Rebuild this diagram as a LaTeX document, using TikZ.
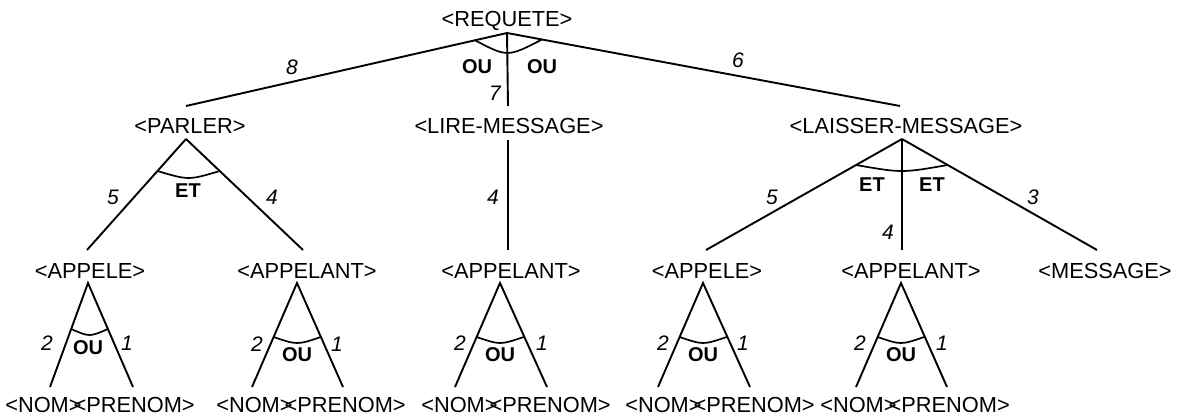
\documentclass[tikz,border=0pt]{standalone}
\usepackage{fontspec}
\setmainfont{Liberation Sans}
\newcommand\nomprenom{<NOM>\kern-0.37em<PRENOM>}
\begin{document}
\begin{tikzpicture}[x=1pt,y=-1pt,
  txt/.style={font=\fontsize{21.8}{24}\selectfont, inner sep=0pt, anchor=base},
  num/.style={font=\fontsize{21}{24}\selectfont\itshape, inner sep=0pt},
  op/.style={font=\fontsize{20}{24}\selectfont\bfseries, inner sep=0pt},
  edge/.style={line width=1.9pt},
  arcl/.style={line width=1.7pt}]
\useasboundingbox (0,0) rectangle (1177,417);
% ---- text nodes
\node[txt] (req) at (507,27) {<REQUETE>};
\node[txt] (parler) at (190,133) {<PARLER>};
\node[txt] (lire) at (509,133) {<LIRE-MESSAGE>};
\node[txt] (laisser) at (906,133) {<LAISSER-MESSAGE>};
\node[txt] (appele1) at (90,278) {<APPELE>};
\node[txt] (appelant2) at (307,278) {<APPELANT>};
\node[txt] (appelant3) at (511,278) {<APPELANT>};
\node[txt] (appele4) at (707,278) {<APPELE>};
\node[txt] (appelant5) at (911,278) {<APPELANT>};
\node[txt] (message) at (1105,278) {<MESSAGE>};
\node[txt] (np1) at (100,412) {\nomprenom};
\node[txt] (np2) at (311,412) {\nomprenom};
\node[txt] (np3) at (516,412) {\nomprenom};
\node[txt] (np4) at (720,412) {\nomprenom};
\node[txt] (np5) at (915,412) {\nomprenom};
% ---- anchor points
\coordinate (rq-a) at (507,33);
\coordinate (pa-t) at (186,106);
\coordinate (li-t) at (508,106);
\coordinate (la-t) at (900,106);
\coordinate (pa-a) at (186,139);
\coordinate (a1-t) at (87,250);
\coordinate (a2-t) at (303,250);
\coordinate (li-a) at (508,140);
\coordinate (a3-t) at (508,250);
\coordinate (la-a) at (902,139);
\coordinate (a4-t) at (706,250);
\coordinate (a5-t) at (902,250);
\coordinate (ms-t) at (1097,250);
% ---- level 1
\draw[edge] (rq-a) -- (pa-t);
\draw[edge] (rq-a) -- (li-t);
\draw[edge] (rq-a) -- (la-t);
\draw[arcl] (475,40.3) .. controls (507.5,57.3) .. (542,39.5);
\node[op] (ou-l) at (477,67) {OU};
\node[op] (ou-r) at (542,67) {OU};
\node[num] (n8) at (292,67) {8};
\node[num] (n7) at (495,93) {7};
\node[num] (n6) at (738,60) {6};
% ---- PARLER
\draw[edge] (pa-a) -- (a1-t);
\draw[edge] (pa-a) -- (a2-t);
\draw[arcl] (157.5,171) .. controls (188.5,180.3) .. (219.7,171);
\node[op] (et-p) at (188,191) {ET};
\node[num] (n5a) at (113,197) {5};
\node[num] (n4a) at (272,197) {4};
% ---- LIRE-MESSAGE
\draw[edge] (li-a) -- (a3-t);
\node[num] (n4b) at (493,197) {4};
% ---- LAISSER-MESSAGE
\draw[edge] (la-a) -- (a4-t);
\draw[edge] (la-a) -- (a5-t);
\draw[edge] (la-a) -- (ms-t);
\draw[arcl] (856,165) .. controls (902,173) .. (947.7,165);
\node[op] (et-l1) at (872,185) {ET};
\node[op] (et-l2) at (932,185) {ET};
\node[num] (n5b) at (772,197) {5};
\node[num] (n4c) at (888,232) {4};
\node[num] (n3) at (1033,197) {3};
% ---- triangles
% T1
\coordinate (t1-a) at (88,283);
\coordinate (t1-l) at (50,387);
\coordinate (t1-r) at (133,387);
\draw[edge] (t1-l) -- (t1-a) -- (t1-r);
\draw[arcl] (71.2,329) .. controls (89.5,337) .. (107.9,329);
\node[op] (ou1) at (88,348) {OU};
\node[num] (t1n2) at (47,343) {2};
\node[num] (t1n1) at (127,343) {1};
% T2
\coordinate (t2-a) at (297,283);
\coordinate (t2-l) at (252,387);
\coordinate (t2-r) at (343,387);
\draw[edge] (t2-l) -- (t2-a) -- (t2-r);
\draw[arcl] (273.6,337) .. controls (297.2,345) .. (320.9,337);
\node[op] (ou2) at (297,355) {OU};
\node[num] (t2n2) at (257,344) {2};
\node[num] (t2n1) at (337,344) {1};
% T3
\coordinate (t3-a) at (500,283);
\coordinate (t3-l) at (455,387);
\coordinate (t3-r) at (547,387);
\draw[edge] (t3-l) -- (t3-a) -- (t3-r);
\draw[arcl] (476.6,337) .. controls (500.1,345) .. (523.7,337);
\node[op] (ou3) at (500,355) {OU};
\node[num] (t3n2) at (460,343) {2};
\node[num] (t3n1) at (542,343) {1};
% T4
\coordinate (t4-a) at (703,283);
\coordinate (t4-l) at (658,387);
\coordinate (t4-r) at (750,387);
\draw[edge] (t4-l) -- (t4-a) -- (t4-r);
\draw[arcl] (679.6,337) .. controls (703.1,345) .. (726.7,337);
\node[op] (ou4) at (703,355) {OU};
\node[num] (t4n2) at (663,343) {2};
\node[num] (t4n1) at (743,343) {1};
% T5
\coordinate (t5-a) at (901,283);
\coordinate (t5-l) at (856,387);
\coordinate (t5-r) at (947,387);
\draw[edge] (t5-l) -- (t5-a) -- (t5-r);
\draw[arcl] (877.6,337) .. controls (900.9,345) .. (924.2,337);
\node[op] (ou5) at (901,355) {OU};
\node[num] (t5n2) at (860,343) {2};
\node[num] (t5n1) at (942,343) {1};
\end{tikzpicture}
\end{document}
